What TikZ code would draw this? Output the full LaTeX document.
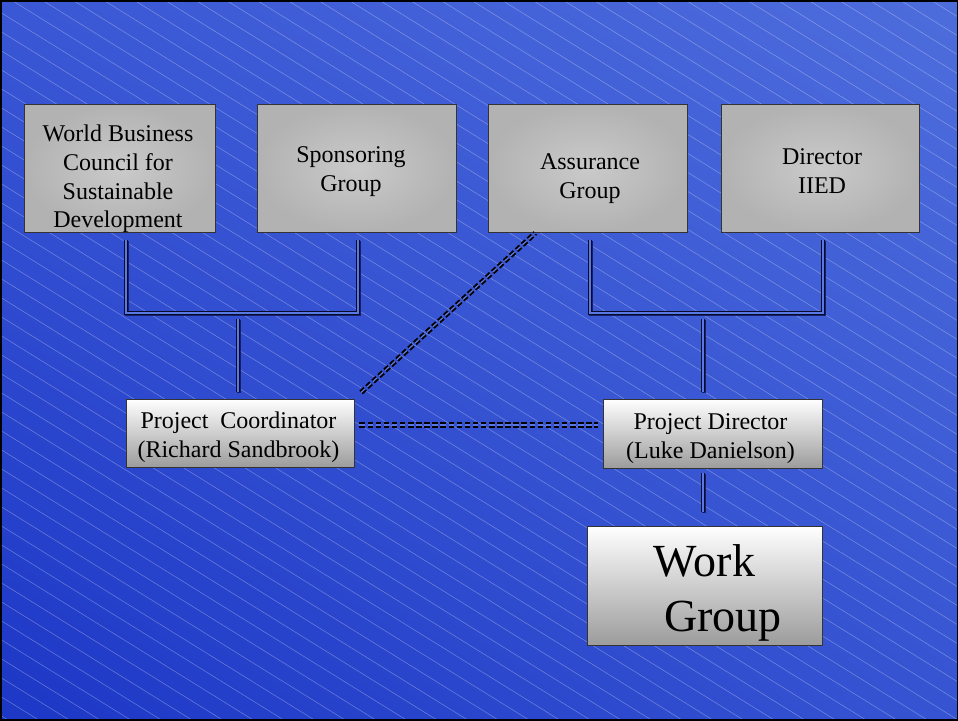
\documentclass[tikz,border=0pt]{standalone}
\usepackage{fontspec}
\setmainfont{Liberation Serif}
\usetikzlibrary{shadings}
\definecolor{bgUL}{HTML}{3A57D5}
\definecolor{bgUR}{HTML}{4E6DDC}
\definecolor{bgLL}{HTML}{1D37C6}
\definecolor{bgLR}{HTML}{3654D2}
\definecolor{boxmid}{HTML}{CACACA}
\definecolor{boxedge}{HTML}{B2B2B2}
\definecolor{lowbot}{HTML}{9C9C9C}
\definecolor{lowmid}{HTML}{E2E2E2}
\definecolor{gapblue}{HTML}{5A78E4}
\definecolor{linecol}{HTML}{080C2A}
\definecolor{shadowcol}{HTML}{16206A}
\begin{document}
\begin{tikzpicture}[x=1pt,y=-1pt,
  topbox/.style={draw=black!80, line width=0.9pt, inner color=boxmid, outer color=boxedge, inner sep=0pt},
  lowbox/.style={draw=black!80, line width=0.9pt, top color=white, middle color=lowmid, bottom color=lowbot, inner sep=0pt},
  txt/.style={align=center, inner sep=0pt, font=\fontsize{24}{28.8}\selectfont},
  bigtxt/.style={inner sep=0pt, anchor=base, font=\fontsize{46}{55}\selectfont},
  shadowline/.style={draw=shadowcol, line width=3.6pt, transform canvas={shift={(1.2pt,-1.2pt)}}},
  dbl/.style={draw=linecol, line width=1.4pt, double=gapblue, double distance=1.1pt},
  ddbl/.style={draw=black, line width=1.9pt, double=gapblue, double distance=1.3pt, dash pattern=on 5.5pt off 2.6pt},
  stripe/.style={draw=white, draw opacity=0.33, line width=0.5pt}]
\useasboundingbox (0,0) rectangle (958,720);
% background
\shade[upper left=bgUL, upper right=bgUR, lower left=bgLL, lower right=bgLR] (0,0) rectangle (958,720);
\begin{scope}
\clip (0,0) rectangle (958,720);
\foreach \c in {-596,-577,...,720} \draw[stripe] (0,\c) -- (958,\c+594);
\end{scope}
\draw[black, line width=3pt] (0,0) rectangle (958,720);
% top boxes
\node[topbox, minimum width=191pt, minimum height=128pt] (wb) at (119.5,168) {};
\node[topbox, minimum width=199pt, minimum height=128pt] (sp) at (356.5,168) {};
\node[topbox, minimum width=199pt, minimum height=128pt] (as) at (587.5,168) {};
\node[topbox, minimum width=198pt, minimum height=128pt] (di) at (820,168) {};
\node[txt] (wbt) at (118,179) {World Business\\Council for\\Sustainable\\Development};
\node[txt] (spt) at (351,171.5) {Sponsoring\\Group};
\node[txt] (ast) at (590,179) {Assurance\\Group};
\node[txt] (dit) at (822,171) {Director\\IIED};
% lower boxes
\node[lowbox, minimum width=228pt, minimum height=68pt] (pc) at (240,433) {};
\node[lowbox, minimum width=219pt, minimum height=69pt] (pd) at (712.5,433.5) {};
\node[lowbox, minimum width=235pt, minimum height=119pt] (wg) at (704.5,585.5) {};
\node[txt] (pct) at (238.5,437.5) {Project\ \ Coordinator\\(Richard Sandbrook)};
\node[txt] (pdt) at (710.5,438.5) {Project Director\\(Luke Danielson)};
\node[bigtxt] (wgt1) at (704.5,576) {Work};
\node[bigtxt] (wgt2) at (723,631) {Group};
% connector points
\coordinate (wbd) at (126,240);
\coordinate (spd) at (358,240);
\coordinate (ljl) at (126,313);
\coordinate (ljr) at (358,313);
\coordinate (lj) at (238,319);
\coordinate (asd) at (590,240);
\coordinate (did) at (823,240);
\coordinate (rjl) at (590,313);
\coordinate (rjr) at (823,313);
\coordinate (rj) at (703,319);
\coordinate (pdd) at (703,473);
\coordinate (asc) at ([xshift=-51.5pt]as.south);
% solid double connectors (shadow first)
\draw[shadowline] (wbd) -- (ljl) -- (ljr) -- (spd);
\draw[shadowline, shorten >=7pt] (lj) -- (lj |- pc.north);
\draw[shadowline] (asd) -- (rjl) -- (rjr) -- (did);
\draw[shadowline, shorten >=7pt] (rj) -- (rj |- pd.north);
\draw[shadowline, shorten >=14pt] (pdd) -- (pdd |- wg.north);
\draw[dbl] (wbd) -- (ljl) -- (ljr) -- (spd);
\draw[dbl, shorten >=7pt] (lj) -- (lj |- pc.north);
\draw[dbl] (asd) -- (rjl) -- (rjr) -- (did);
\draw[dbl, shorten >=7pt] (rj) -- (rj |- pd.north);
\draw[dbl, shorten >=14pt] (pdd) -- (pdd |- wg.north);
% dashed double connectors
\draw[ddbl, shorten <=5pt, shorten >=5pt] ([yshift=8pt]pc.east) -- ([yshift=8pt]pc.east -| pd.west);
\draw[ddbl, shorten <=9pt, shorten >=1pt] (pc.north east) -- (asc);
\end{tikzpicture}
\end{document}
